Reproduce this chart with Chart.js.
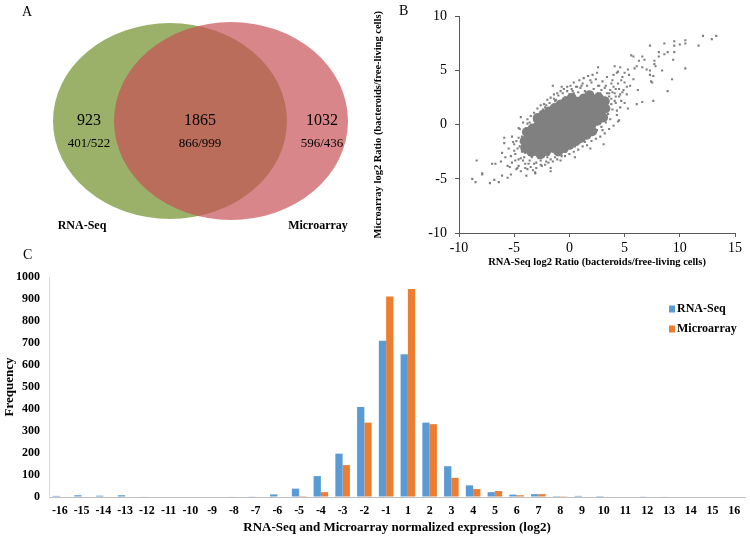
<!DOCTYPE html>
<html>
<head>
<meta charset="utf-8">
<script src="https://cdn.jsdelivr.net/npm/chart.js@4.4.0/dist/chart.umd.min.js"></script>
<style>
  body{margin:0;background:#fff;width:750px;height:539px;overflow:hidden;position:relative;font-family:"Liberation Serif",serif;}
  .panel{position:absolute;}
  .tag{position:absolute;font-size:14px;line-height:16px;color:#000;}
</style>
</head>
<body>
<div class="panel" style="left:0;top:0;width:370px;height:235px"><canvas id="venn"></canvas></div>
<div class="panel" style="left:0;top:240px;width:750px;height:299px"><canvas id="bars"></canvas></div>
<div class="panel" style="left:370px;top:0;width:380px;height:280px"><canvas id="scatter"></canvas></div>
<div class="tag" style="left:22px;top:4px">A</div>
<div class="tag" style="left:399px;top:3px">B</div>
<div class="tag" style="left:23px;top:247px">C</div>
<script>
const SERIF = '"Liberation Serif", "Times New Roman", serif';

// ---- panel A : venn counts
const vennSetNames = ['RNA-Seq', 'Microarray'];
const vennCounts = [923, 1865, 1032];          // RNA-Seq only, both, Microarray only
const vennSplits = ['401/522', '866/999', '596/436'];

// ---- panel B : log2 ratios (RNA-Seq x, Microarray y)
// the solid middle of the cloud
const denseCore = [
  [-4.0,-2.16],[-3.49,-1.85],[-2.97,-1.54],[-2.46,-1.23],[-1.94,-0.93],[-1.43,-0.62],[-0.91,-0.31],[-0.4,0],
  [0.11,0.31],[0.63,0.62],[1.14,0.93],[1.66,1.23],[2.17,1.54],[2.69,1.85],[3.2,2.16],
  [-4.05,-1.5],[-3.54,-1.19],[-3.02,-0.88],[-2.51,-0.57],[-2.0,-0.26],[-1.48,0.05],[-0.97,0.36],
  [-0.45,0.66],[0.06,0.97],[0.58,1.28],[1.09,1.59],[1.6,1.9],[2.12,2.21],[2.63,2.51],
  [-3.43,-2.51],[-2.92,-2.21],[-2.4,-1.9],[-1.89,-1.59],[-1.38,-1.28],[-0.86,-0.97],[-0.35,-0.66],
  [0.17,-0.36],[0.68,-0.05],[1.2,0.26],[1.71,0.57],[2.22,0.88],[2.74,1.19],[3.25,1.5],
  [-3.85,-0.67],[-3.33,-0.36],[-2.82,-0.05],[-2.31,0.26],[-1.79,0.57],[-1.28,0.88],[-0.76,1.18],
  [-0.25,1.49],[0.27,1.8],[0.78,2.11],[1.29,2.42],[1.81,2.73],
  [-2.61,-2.73],[-2.09,-2.42],[-1.58,-2.11],[-1.07,-1.8],[-0.55,-1.49],[-0.04,-1.18],[0.48,-0.88],
  [0.99,-0.57],[1.51,-0.26],[2.02,0.05],[2.53,0.36],[3.05,0.67],
  [-2.87,0.61],[-2.36,0.92],[-1.84,1.23],[-1.33,1.54],[-0.82,1.85],[-0.3,2.16],[0.21,2.47],
  [-1.01,-2.47],[-0.5,-2.16],[0.02,-1.85],[0.53,-1.54],[1.04,-1.23],[1.56,-0.92],[2.07,-0.61]
];
const genePoints = [
  [13.3,8.2],[12.9,7.9],[12.1,8.2],[11.7,7.3],[10.5,7.8],[10.5,7.5],[10.0,7.4],[9.5,7.7],[9.5,7.3],[8.6,7.5],
  [7.3,7.3],[10.5,5.2],[9.3,4.2],[8.9,3.1],[7.6,2.2],[6.6,2.1],[6.1,1.9],[5.3,1.5],[6.2,3.2],[7.5,3.9],
  [7.4,4.0],[9.4,6.0],[8.9,6.7],[8.1,6.3],[8.1,6.7],[8.4,5.0],[7.7,5.9],[7.7,5.6],[7.8,5.4],[7.3,5.0],
  [7.0,5.1],[6.6,5.3],[6.3,5.9],[6.6,6.3],[5.8,6.3],[5.6,6.4],[6.1,5.4],[5.9,5.2],[5.3,5.1],[5.0,4.8],
  [4.6,5.3],[4.1,5.4],[4.3,4.8],[4.8,4.4],[5.0,3.9],[5.2,3.5],[4.9,3.2],[4.6,2.8],[7.3,4.6],[7.6,4.5],
  [9.5,6.7],[6.8,6.0],[8.6,6.5],[4.5,0.4],[3.1,-1.8],[1.9,-2.2],[0.5,-3.0],[-1.7,-4.3],[-3.1,-4.4],[-4.0,-3.6],
  [-4.4,0.7],[-1.5,3.6],[2.6,5.3],[-4.6,-3.2],
  [-8.8,-5.0],[-8.5,-5.3],[-8.4,-3.3],[-7.9,-4.5],[-7.9,-4.6],[-7.2,-5.4],[-6.8,-5.1],[-6.4,-5.3],[-7.0,-3.6],
  [-6.7,-3.6],[-6.1,-4.7],[-5.6,-4.9],[-5.3,-4.6],[-6.1,-2.6],[-5.9,-1.7],[-5.9,-1.2],[-5.2,-1.1],[-5.0,-1.8],
  [-6.2,-3.4],[-5.6,-3.8],[-4.7,-4.0],[-4.4,-3.1],[-3.9,-4.7],[-3.1,-4.5],[-1.7,-4.0],[-4.6,-0.3],[-0.7,3.5],
  [0.7,3.5],[-2.1,1.8],[-1.3,2.2],[-3.8,0.1],
  [-5.8,-3.0],[-5.5,-2.2],[-5.2,-3.5],[-4.9,-2.7],[-4.8,-1.5],[-4.6,-3.8],[-4.5,-2.0],[-4.3,-1.1],[-4.2,-3.3],
  [-4.0,-2.6],[-3.9,-0.6],[-3.8,-4.1],[-3.7,-3.6],[-3.6,-1.9],[-3.5,-0.2],[-3.4,-3.0],[-3.3,-4.2],[-3.2,0.4],
  [-3.1,-2.4],[-3.0,-3.5],[-2.9,0.9],[-2.8,-3.1],[-2.7,-2.7],[-2.6,1.2],[-2.5,-3.8],[-2.4,0.7],[-2.3,-2.9],
  [-2.2,1.6],[-2.1,-3.4],[-2.0,1.0],[-1.9,-2.8],[-1.8,2.0],[-1.7,-3.2],[-1.6,1.5],[-1.5,-2.5],[-1.4,2.4],
  [-1.3,-3.0],[-1.2,1.9],[-1.1,-2.6],[-1.0,2.7],[-0.9,-2.3],[-0.8,2.2],[-0.7,-2.9],[-0.6,2.9],[-0.5,-2.0],
  [-0.4,2.5],[-0.3,-2.5],[-0.2,3.1],[-0.1,-1.8],[0.0,2.8],[0.1,-2.2],[0.2,3.3],[0.3,-1.6],[0.4,2.9],
  [0.5,-2.0],[0.6,3.5],[0.7,-1.3],[0.8,3.0],[0.9,-1.7],[1.0,3.4],[1.1,-1.0],[1.2,3.8],[1.3,-1.4],[1.4,3.1],
  [1.5,-0.7],[1.6,3.6],[1.7,-1.1],[1.8,2.9],[1.9,-0.4],[2.0,3.9],[2.1,-0.8],[2.2,3.3],[2.3,-0.1],[2.4,4.2],
  [2.5,-0.5],[2.6,3.6],[2.7,0.3],[2.8,2.9],[2.9,-0.2],[3.0,4.0],[3.1,0.6],[3.2,3.4],[3.3,0.2],[3.4,4.4],
  [3.5,1.0],[3.6,2.9],[3.7,0.5],[3.8,3.8],[3.9,1.4],[4.0,4.6],[4.1,2.2],[4.2,3.3],[4.3,0.9],[4.4,4.9],
  [4.5,2.6],[4.6,1.6],[4.7,4.1],[4.8,3.0],[5.0,2.0],
  [2.2,1.8],[2.5,2.4],[2.8,1.6],[3.0,2.6],[3.2,1.9],[3.4,2.9],[3.5,2.2],[3.7,3.2],[3.8,2.4],[4.0,3.5],
  [4.1,2.9],[3.3,3.6],[2.9,3.2],[2.6,2.9],[3.6,1.5],[4.4,3.8],[4.2,2.0],[3.9,4.1],[2.4,2.6],[2.7,3.6],
  [-3.9,-2.2],[-4.1,-3.0],[-3.6,-2.8],[-3.3,-2.3],[-3.0,-2.8],[-2.8,-2.3],[-2.5,-2.6],[-4.3,-2.5],
  [-3.7,-1.5],[-4.0,-1.8],[-3.4,-1.6],[-2.9,-1.8],[-3.2,-3.6],[-2.6,-3.3],
  [-4.5,-0.4],[-4.2,0.2],[-3.8,0.5],[-3.5,0.8],[-3.2,1.1],[-2.9,1.5],[-2.6,1.8],[-2.3,1.9],[-2.0,2.3],
  [-1.7,2.5],[-1.4,2.8],[-1.1,2.9],[-0.8,3.1],[-0.5,3.3],[-0.2,3.5],[0.1,3.6],[0.4,3.9],[0.9,4.1],
  [1.3,4.3],[1.7,4.5],[2.1,4.6],[2.5,4.8],[-3.6,0.2],[-2.4,1.4],[-1.2,2.3],[0.3,3.1],[1.1,3.6],[1.9,4.1],
  [-4.8,-4.1],[-4.4,-4.3],[-4.0,-4.0],[-3.5,-3.9],[-3.0,-4.0],[-2.6,-3.7],[-2.2,-3.7],[-1.9,-3.5],
  [-1.5,-3.4],[-1.1,-3.2],[-0.8,-3.3],[-0.4,-2.9],[0.0,-2.7],[0.4,-2.5],[0.8,-2.3],[1.2,-2.0],[1.6,-1.9],
  [2.0,-1.5],[2.4,-1.3],[2.8,-1.1],[3.2,-0.8],[3.6,-0.4],[4.0,-0.1],[4.4,0.3],[-2.0,-3.0],[-0.2,-2.3],
  [1.4,-1.6],[3.0,-0.5],[-3.6,-3.3],
  [3.6,2.6],[3.9,3.0],[4.2,2.6],[4.5,3.3],[3.4,1.8],[3.8,1.9],[4.3,1.3],[4.7,2.2],[5.2,2.8],[5.5,3.6],
  [5.8,4.2],[5.4,4.6],
  [-5.0,-2.4],[-5.3,-2.9],[-4.7,-2.2],[-4.9,-3.3],[-5.4,-3.9],[-4.6,-1.2],[-4.4,-1.6],[-5.1,-1.6]
];

// ---- panel C : histogram of log2 expression
const binLabels = ['-16','-15','-14','-13','-12','-11','-10','-9','-8','-7','-6','-5','-4','-3','-2','-1',
                   '1','2','3','4','5','6','7','8','9','10','11','12','13','14','15','16'];
const rnaSeqFreq = [5,8,6,8,2,0,0,0,2,3,12,38,95,197,409,710, 649,338,140,53,22,11,13,4,5,4,0,3,2,0,0,0];
const microarrayFreq = [0,0,0,0,0,0,0,0,0,0,0,4,22,145,338,911, 945,331,87,36,27,8,13,1,0,0,0,0,0,0,0,0];

// venn layout (in scale units of the hidden axes)
const vennLayout = {
  ellipses: [
    {cx:170, cy:121, rx:117, ry:98, fill:'#9bb169'},
    {cx:231, cy:121, rx:117, ry:99, fill:'rgba(199,77,83,0.68)'}
  ],
  countX: [89, 200, 322], countY: 121, splitY: 144,
  nameX: [82, 318], nameY: 226
};

const vennPlugin = {
  id: 'vennDraw',
  afterDatasetsDraw(chart) {
    const {ctx, scales:{x, y}} = chart;
    const kx = x.getPixelForValue(1) - x.getPixelForValue(0);
    const ky = Math.abs(y.getPixelForValue(1) - y.getPixelForValue(0));
    ctx.save();
    vennLayout.ellipses.forEach(e => {
      ctx.beginPath();
      ctx.ellipse(x.getPixelForValue(e.cx), y.getPixelForValue(e.cy), e.rx*kx, e.ry*ky, 0, 0, Math.PI*2);
      ctx.fillStyle = e.fill;
      ctx.fill();
    });
    ctx.fillStyle = '#000';
    ctx.textAlign = 'center';
    ctx.textBaseline = 'middle';
    vennCounts.forEach((c, i) => {
      ctx.font = '16px ' + SERIF;
      ctx.fillText(String(c), x.getPixelForValue(vennLayout.countX[i]), y.getPixelForValue(vennLayout.countY));
      ctx.font = '13px ' + SERIF;
      ctx.fillText(vennSplits[i], x.getPixelForValue(vennLayout.countX[i]), y.getPixelForValue(vennLayout.splitY));
    });
    ctx.font = 'bold 12px ' + SERIF;
    vennSetNames.forEach((n, i) => {
      ctx.fillText(n, x.getPixelForValue(vennLayout.nameX[i]), y.getPixelForValue(vennLayout.nameY));
    });
    ctx.restore();
  }
};

new Chart(document.getElementById('venn'), {
  type: 'scatter',
  data: { datasets: [] },
  options: {
    responsive: true, maintainAspectRatio: false, animation: false,
    layout: { padding: 0 },
    plugins: { legend: {display:false}, tooltip: {enabled:false} },
    scales: {
      x: { type:'linear', min:0, max:370, display:false },
      y: { type:'linear', min:0, max:235, reverse:true, display:false }
    }
  },
  plugins: [vennPlugin]
});

// scatter panel
const toXY = arr => arr.map(p => ({x:p[0], y:p[1]}));
new Chart(document.getElementById('scatter'), {
  type: 'scatter',
  data: {
    datasets: [
      { label:'core', data: toXY(denseCore), pointRadius:5, pointStyle:'circle',
        backgroundColor:'#808080', borderWidth:0 },
      { label:'genes', data: toXY(genePoints), pointRadius:1.5, pointStyle:'rect',
        backgroundColor:'#7f7f7f', borderWidth:0 }
    ]
  },
  options: {
    responsive: true, maintainAspectRatio: false, animation: false,
    layout: { padding: {left:0, right:15, top:13, bottom:0} },
    plugins: { legend: {display:false}, tooltip: {enabled:false} },
    scales: {
      x: {
        type:'linear', min:-10, max:15,
        ticks: { stepSize:5, color:'#000', font:{family:SERIF, size:14}, padding:3, maxRotation:0 },
        grid: { drawOnChartArea:false, tickLength:4, color:'#595959' },
        border: { color:'#595959' },
        title: { display:true, text:'RNA-Seq log2 Ratio (bacteroids/free-living cells)', color:'#000',
                 font:{family:SERIF, size:10.5, weight:'bold'}, padding:{top:0, bottom:11} },
        afterFit: s => { s.height = 47; }
      },
      y: {
        type:'linear', min:-10, max:10,
        ticks: { stepSize:5, color:'#000', font:{family:SERIF, size:14}, padding:8 },
        grid: { drawOnChartArea:false, tickLength:4, color:'#595959' },
        border: { color:'#595959' },
        title: { display:true, text:'Microarray log2 Ratio (bacteroids/free-living cells)', color:'#000',
                 font:{family:SERIF, size:10.5, weight:'bold'}, padding:{top:2, bottom:0} },
        afterFit: s => { s.width = 89; }
      }
    }
  }
});

// histogram panel, legend drawn inside the plot area
const barLegend = {
  id: 'barLegend',
  afterDraw(chart) {
    const {ctx, chartArea} = chart;
    ctx.save();
    ctx.font = 'bold 12px ' + SERIF;
    ctx.textBaseline = 'middle';
    chart.data.datasets.forEach((ds, i) => {
      const yy = chartArea.top + 32 + i*20;
      const xx = chartArea.right - 76;
      ctx.fillStyle = ds.backgroundColor;
      ctx.fillRect(xx, yy - 3.5, 6, 7);
      ctx.fillStyle = '#000';
      ctx.fillText(ds.label, xx + 8, yy);
    });
    ctx.restore();
  }
};

new Chart(document.getElementById('bars'), {
  type: 'bar',
  data: {
    labels: binLabels,
    datasets: [
      { label:'RNA-Seq', data: rnaSeqFreq, backgroundColor:'#5b9bd5' },
      { label:'Microarray', data: microarrayFreq, backgroundColor:'#ed7d31' }
    ]
  },
  options: {
    responsive: true, maintainAspectRatio: false, animation: false,
    categoryPercentage: 0.67, barPercentage: 1.0,
    layout: { padding: {left:0, right:5, top:37, bottom:0} },
    plugins: { legend: {display:false}, tooltip: {enabled:false} },
    scales: {
      x: {
        ticks: { color:'#000', font:{family:SERIF, size:12, weight:'bold'}, padding:7, maxRotation:0, autoSkip:false },
        grid: { drawOnChartArea:false, drawTicks:false },
        border: { color:'#bfbfbf' },
        title: { display:true, text:'RNA-Seq and Microarray normalized expression (log2)', color:'#000',
                 font:{family:SERIF, size:13, weight:'bold'}, padding:{top:0, bottom:4} },
        afterFit: s => { s.height = 42; }
      },
      y: {
        min:0, max:1000,
        ticks: { stepSize:100, color:'#000', font:{family:SERIF, size:12, weight:'bold'}, padding:9,
                 callback: v => String(v) },
        grid: { drawOnChartArea:false, drawTicks:false },
        border: { color:'#d9d9d9' },
        title: { display:true, text:'Frequency', color:'#000',
                 font:{family:SERIF, size:13, weight:'bold'}, padding:{top:2, bottom:0} },
        afterFit: s => { s.width = 49; }
      }
    }
  },
  plugins: [barLegend]
});
</script>
</body>
</html>
